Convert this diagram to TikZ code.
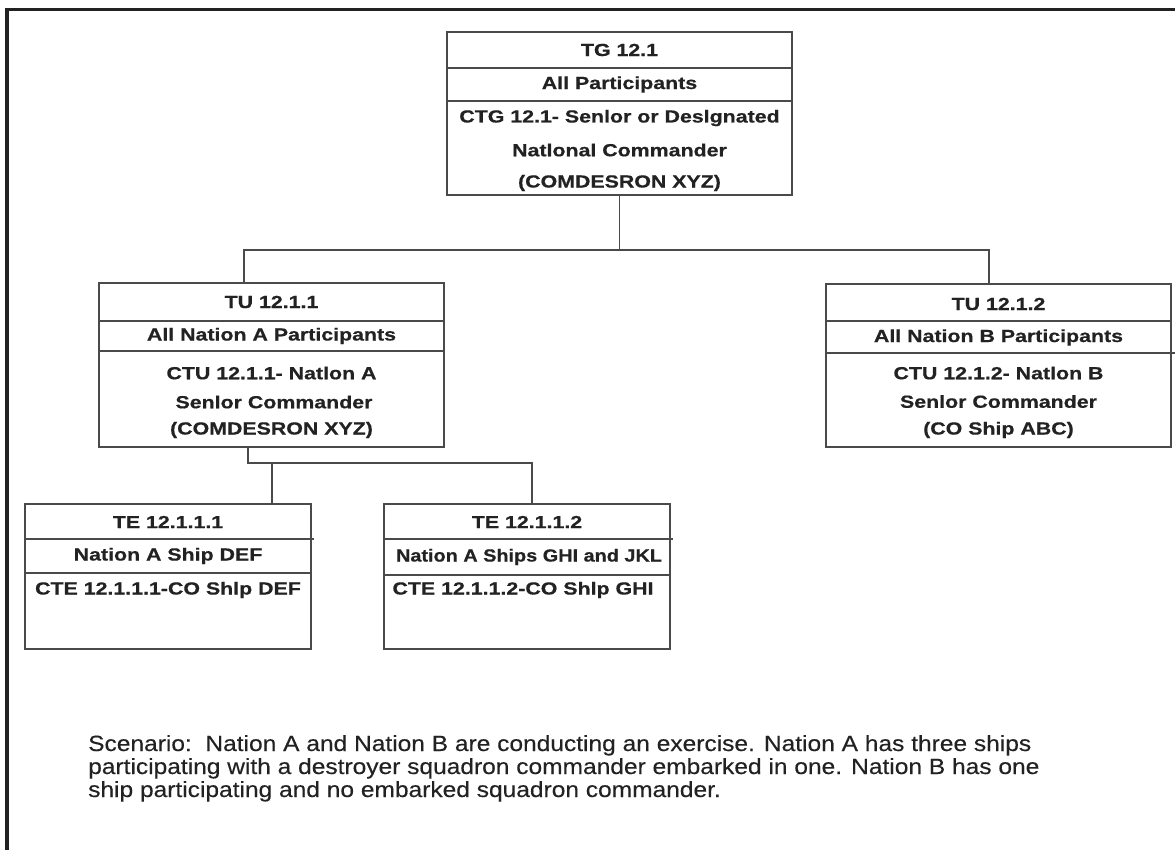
\documentclass[tikz,border=0pt]{standalone}
\usepackage{fontspec}
\setmainfont{Liberation Sans}
\newfontfamily\boxfont{Liberation Sans Bold}[FakeStretch=1.22,FakeBold=0.6]
\newfontfamily\scenfont{Liberation Sans}[FakeStretch=1.115,FakeBold=0.3]
\definecolor{ink}{HTML}{222222}
\definecolor{rule}{HTML}{4A4A4A}
\tikzset{
  frame/.style={draw=ink, line width=3.5pt},
  boxframe/.style={draw=rule, line width=1.2pt, rectangle, inner sep=0pt},
  divider/.style={draw=rule, line width=1.1pt},
  conn/.style={draw=rule, line width=1.2pt},
  lbl/.style={inner sep=0pt, text=ink, font=\boxfont\fontsize{17.5}{20}\selectfont},
  scen/.style={inner sep=0pt, anchor=base west, text=ink, font=\scenfont\fontsize{22}{23}\selectfont}
}
\begin{document}
\begin{tikzpicture}[x=1pt,y=-1pt]
\useasboundingbox (0,0) rectangle (1175,850);
% outer frame (top and left only)
\draw[frame] (7,850) -- (7,9.3) -- (1175,9.3);

% ---- boxes
\node[boxframe, minimum width=345pt, minimum height=163pt] (tg) at (619.5,113.5) {};
\node[boxframe, minimum width=345pt, minimum height=164pt] (tu1) at (271.5,365) {};
\node[boxframe, minimum width=345pt, minimum height=163pt] (tu2) at (998.5,365.5) {};
\node[boxframe, minimum width=286pt, minimum height=145pt] (te1) at (168,576.5) {};
\node[boxframe, minimum width=286pt, minimum height=145pt] (te2) at (527,576.5) {};

% ---- dividers
\draw[divider] (tg.west |- 0,68) -- (tg.east |- 0,68);
\draw[divider] (tg.west |- 0,101) -- (tg.east |- 0,101);
\draw[divider] (tu1.west |- 0,321) -- (tu1.east |- 0,321);
\draw[divider] (tu1.west |- 0,351) -- (tu1.east |- 0,351);
\draw[divider] (tu2.west |- 0,321) -- (tu2.east |- 0,321);
\draw[divider] (tu2.west |- 0,353) -- (1175,353);
\draw[divider] (te1.west |- 0,539) -- ([xshift=2pt]te1.east |- 0,539);
\draw[divider] (te1.west |- 0,573) -- (te1.east |- 0,573);
\draw[divider] (te2.west |- 0,539) -- ([xshift=2pt]te2.east |- 0,539);
\draw[divider] (te2.west |- 0,575) -- (te2.east |- 0,575);

% ---- texts
\node[lbl] (tga) at (619.5,50) {TG 12.1};
\node[lbl] (tgb) at (619.5,84.5) {All Participants};
\node[lbl] (tgc) at (619.5,118) {CTG 12.1- Senlor or Deslgnated};
\node[lbl] (tgd) at (619.5,150) {Natlonal Commander};
\node[lbl] (tge) at (619.5,183) {(COMDESRON XYZ)};

\node[lbl] (tu1a) at (271.5,302) {TU 12.1.1};
\node[lbl] (tu1b) at (271.5,336) {All Nation A Participants};
\node[lbl] (tu1c) at (271.5,373) {CTU 12.1.1- Natlon A};
\node[lbl] (tu1d) at (274,402) {Senlor Commander};
\node[lbl] (tu1e) at (271.5,430) {(COMDESRON XYZ)};

\node[lbl] (tu2a) at (998.5,304) {TU 12.1.2};
\node[lbl] (tu2b) at (998.5,337.5) {All Nation B Participants};
\node[lbl] (tu2c) at (998.5,373) {CTU 12.1.2- Natlon B};
\node[lbl] (tu2d) at (998.5,401.5) {Senlor Commander};
\node[lbl] (tu2e) at (998.5,430) {(CO Ship ABC)};

\node[lbl] (te1a) at (168,522) {TE 12.1.1.1};
\node[lbl] (te1b) at (168,556) {Nation A Ship DEF};
\node[lbl] (te1c) at (168,590) {CTE 12.1.1.1-CO Shlp DEF};

\node[lbl] (te2a) at (527,522) {TE 12.1.1.2};
\node[lbl] (te2b) at (529,557) {\scalebox{0.93}[1]{Nation A Ships GHI and JKL}};
\node[lbl] (te2c) at (523,590) {CTE 12.1.1.2-CO Shlp GHI};

% ---- connectors
\coordinate (j1) at (244,250);
\coordinate (j2) at (989,250);
\draw[conn] (tg.south) -- (tg.south |- j1);
\draw[conn] (j1 |- tu1.north) -- (j1) -- (j2) -- (j2 |- tu2.north);

\coordinate (k1) at (248,463);
\coordinate (k2) at (532,463);
\coordinate (k3) at (272,463);
\draw[conn] (k1 |- tu1.south) -- (k1) -- (k2) -- (k2 |- te2.north);
\draw[conn] (k3) -- (k3 |- te1.north);

% ---- scenario text
\node[scen] (s1) at (88,751) {Scenario:\ \ Nation A and Nation B are conducting an exercise. Nation A has three ships};
\node[scen] (s2) at (88,774) {participating with a destroyer squadron commander embarked in one. Nation B has one};
\node[scen] (s3) at (88,797) {ship participating and no embarked squadron commander.};
\end{tikzpicture}
\end{document}
